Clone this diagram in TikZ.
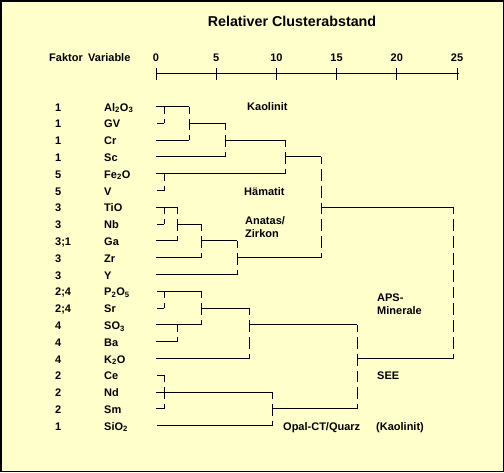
\documentclass[tikz,border=0pt]{standalone}
\usepackage{fontspec}
\setmainfont{Liberation Sans}
\definecolor{bgyellow}{RGB}{255,255,204}
\newcommand\rowy[1]{106.5+16.8*#1}
\newcommand\hseg[3]{\draw[dend] (#1,\rowy{#3}) -- (#2,\rowy{#3});}
\newcommand\vseg[3]{\draw[vdash] (#1,\rowy{#2}) -- (#1,\rowy{#3});}
\begin{document}
\begin{tikzpicture}[x=1pt,y=-1pt,
  dend/.style={line width=1pt},
  vdash/.style={dend, dash pattern=on 11.8pt off 5pt, dash phase=4.8pt},
  lbl/.style={font=\fontsize{11}{12.7}\selectfont\bfseries, inner sep=0pt, anchor=base west, align=left},
  tick/.style={font=\fontsize{11}{12.7}\selectfont\bfseries, inner sep=0pt, anchor=base},
  ttl/.style={font=\fontsize{14.3}{16}\selectfont\bfseries, inner sep=0pt, anchor=base}]
\useasboundingbox (0,0) rectangle (504,472);
\fill[bgyellow] (0,0) rectangle (504,472);
\draw[line width=1.5pt] (0.75,0.75) rectangle (503.25,471.25);
% title and axis
\node[ttl] (title) at (292,26) {Relativer Clusterabstand};
\node[lbl] (fak) at (49,61) {Faktor};
\node[lbl] (var) at (88,61) {Variable};
\foreach \v [count=\k from 0] in {0,5,10,15,20,25}{
  \node[tick] (t\v) at ({156+12.04*\v},61) {\v};
  \draw[dend] ({156+12.04*\v},68) -- ({156+12.04*\v},80);
}
\draw[dend] (156,73) -- (459,73);
% rows
\foreach \i/\f/\v in {0/1/Al\textsubscript{2}O\textsubscript{3},1/1/GV,2/1/Cr,3/1/Sc,
  4/5/Fe\textsubscript{2}O,5/5/V,6/3/TiO,7/3/Nb,8/3;1/Ga,9/3/Zr,10/3/Y,
  11/2;4/P\textsubscript{2}O\textsubscript{5},12/2;4/Sr,13/4/SO\textsubscript{3},14/4/Ba,
  15/4/K\textsubscript{2}O,16/2/Ce,17/2/Nd,18/2/Sm,19/1/SiO\textsubscript{2}}{
  \node[lbl] (f\i) at (55,{\rowy{\i}+4.5}) {\f};
  \node[lbl] (v\i) at (104,{\rowy{\i}+4.5}) {\v};
}
% group labels
\node[lbl] (kao) at (247,110.5) {Kaolinit};
\node[lbl] (haem) at (244,195.7) {Hämatit};
\node[lbl] (anat) at (245,237) {Anatas/\\Zirkon};
\node[lbl] (aps) at (377,314) {APS-\\Minerale};
\node[lbl] (see) at (377,379) {SEE};
\node[lbl] (opal) at (283,430.5) {Opal-CT/Quarz};
\node[lbl] (kao2) at (376,430.5) {(Kaolinit)};
% dendrogram: Kaolinit group
\hseg{156}{189}{0} \hseg{157}{164}{1} \vseg{164}{0}{1} \vseg{189}{0}{2}
\hseg{156}{189}{2} \hseg{189}{225}{1} \vseg{225}{1}{3} \hseg{156}{225}{3}
\hseg{225}{285}{2} \vseg{285}{2}{4} \hseg{156}{285}{4}
\hseg{157}{164}{5} \vseg{164}{4}{5}
\hseg{285}{321}{3} \vseg{321}{3}{9}
% Anatas/Zirkon
\hseg{156}{177}{6} \hseg{157}{164}{7} \vseg{164}{6}{7} \vseg{177}{6}{8}
\hseg{156}{177}{8} \hseg{177}{201}{7} \vseg{201}{7}{9} \hseg{156}{201}{9}
\hseg{201}{237}{8} \vseg{237}{8}{10} \hseg{156}{237}{10}
\hseg{237}{321}{9}
\hseg{321}{453}{6} \vseg{453}{6}{15}
% APS
\hseg{157}{201}{11} \hseg{157}{164}{12} \vseg{164}{11}{12} \vseg{201}{11}{13}
\hseg{156}{201}{13} \vseg{177}{13}{14} \hseg{156}{177}{14}
\hseg{201}{249}{12} \vseg{249}{12}{15} \hseg{156}{249}{15}
\hseg{249}{357}{13} \vseg{357}{13}{18}
% SEE
\hseg{157}{164}{16} \vseg{164}{16}{18} \hseg{156}{164}{18}
\hseg{156}{272}{17} \vseg{272}{17}{19} \hseg{157}{272}{19}
\hseg{272}{357}{18}
\hseg{357}{453}{15}
\end{tikzpicture}
\end{document}
